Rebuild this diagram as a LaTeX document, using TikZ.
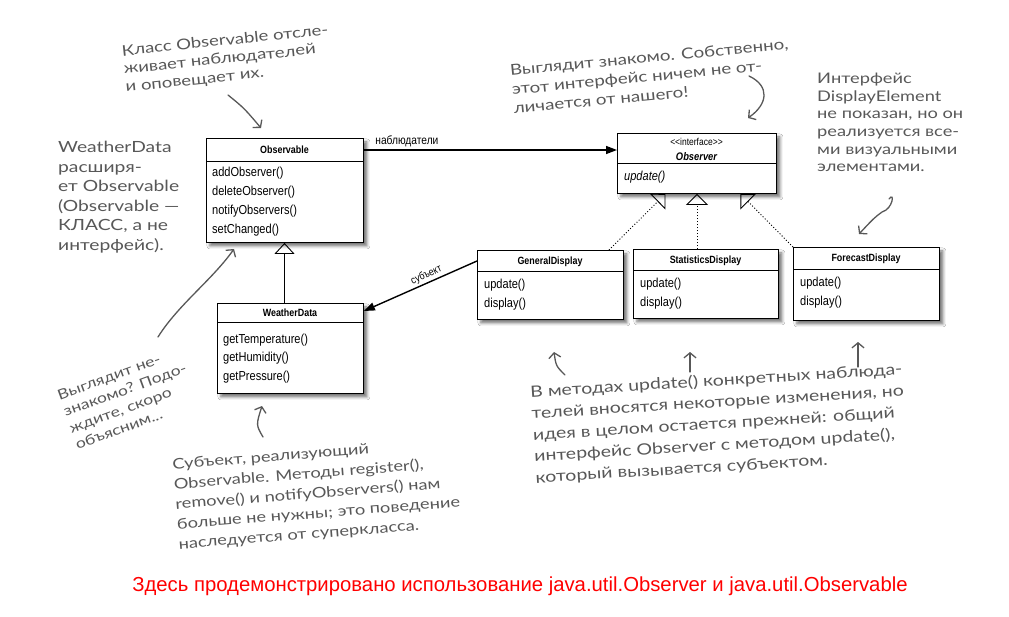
\documentclass[tikz,border=0pt]{standalone}
\usepackage{fontspec}
\setmainfont{Liberation Sans}
\newfontfamily\uml[FakeStretch=0.85]{Liberation Sans}
\newfontfamily\hand[FakeStretch=1.25]{Lato}
\usetikzlibrary{arrows.meta,shadows.blur,calc}
\definecolor{annot}{RGB}{88,88,88}
\tikzset{
  umlbox/.style={draw, line width=0.9pt, fill=white, anchor=north west, inner sep=0pt,
    blur shadow={shadow xshift=3.5pt, shadow yshift=-3.5pt, shadow blur radius=3pt, shadow opacity=55}},
  sepline/.style={line width=0.8pt},
  ttl/.style={font=\uml\bfseries\fontsize{10.5}{12}\selectfont, inner sep=0pt},
  mth/.style={font=\uml\fontsize{13}{15}\selectfont, anchor=west, inner sep=0pt},
  assoc/.style={line width=1.4pt, -{Triangle[length=11pt,width=8pt]}},
  gener/.style={line width=0.9pt, -{Triangle[open,length=11pt,width=20pt,line width=0.9pt]}},
  realiz/.style={line width=0.9pt, dash pattern=on 1pt off 2pt, -{Triangle[open,length=11pt,width=22pt,line width=0.9pt,sep=0pt]}},
  note/.style={text=annot, align=left, inner sep=0pt, font=\hand\fontsize{14.5}{17.5}\selectfont},
  handarrow/.style={draw=annot, line width=1.3pt, line cap=round, -{Straight Barb[length=5pt,width=12pt]}},
  lbl/.style={font=\uml\fontsize{12}{14}\selectfont, inner sep=1pt}
}
\begin{document}
\begin{tikzpicture}[x=1pt,y=-1pt]
\fill[white] (0,0) rectangle (1009,616);
\useasboundingbox (0,0) rectangle (1009,616);

% ---------- Observable ----------
\node[umlbox, minimum width=157pt, minimum height=104pt] (obs) at (206,138) {};
\draw[sepline] ([yshift=-23pt]obs.north west) -- ([yshift=-23pt]obs.north east);
\node[ttl] (obsT) at (284.5,150) {Observable};
\node[mth] (obs1) at (212,173) {addObserver()};
\node[mth] (obs2) at (212,192) {deleteObserver()};
\node[mth] (obs3) at (212,211) {notifyObservers()};
\node[mth] (obs4) at (212,230) {setChanged()};

% ---------- Observer ----------
\node[umlbox, minimum width=159pt, minimum height=60pt] (observer) at (617,133) {};
\draw[sepline] ([yshift=-30pt]observer.north west) -- ([yshift=-30pt]observer.north east);
\node[font=\uml\fontsize{10}{12}\selectfont, inner sep=0pt] (oI) at (696.5,142) {<<interface>>};
\node[ttl, font=\uml\bfseries\itshape\fontsize{11}{12}\selectfont] (oT) at (696.5,157) {Observer};
\node[mth, font=\uml\itshape\fontsize{13}{15}\selectfont] (o1) at (624,177) {update()};

% ---------- WeatherData ----------
\node[umlbox, minimum width=146pt, minimum height=90pt] (wd) at (217,303) {};
\draw[sepline] ([yshift=-19pt]wd.north west) -- ([yshift=-19pt]wd.north east);
\node[ttl] (wdT) at (290,313) {WeatherData};
\node[mth] (wd1) at (223,340) {getTemperature()};
\node[mth] (wd2) at (223,358) {getHumidity()};
\node[mth] (wd3) at (223,377) {getPressure()};

% ---------- GeneralDisplay ----------
\node[umlbox, minimum width=146pt, minimum height=69pt] (gd) at (477,250) {};
\draw[sepline] ([yshift=-21pt]gd.north west) -- ([yshift=-21pt]gd.north east);
\node[ttl] (gdT) at (550,262) {GeneralDisplay};
\node[mth] (gd1) at (484,285) {update()};
\node[mth] (gd2) at (484,304) {display()};

% ---------- StatisticsDisplay ----------
\node[umlbox, minimum width=145pt, minimum height=69pt] (sd) at (633,249) {};
\draw[sepline] ([yshift=-21pt]sd.north west) -- ([yshift=-21pt]sd.north east);
\node[ttl] (sdT) at (705.5,261) {StatisticsDisplay};
\node[mth] (sd1) at (640,284) {update()};
\node[mth] (sd2) at (640,303) {display()};

% ---------- ForecastDisplay ----------
\node[umlbox, minimum width=146pt, minimum height=73pt] (fd) at (793,247) {};
\draw[sepline] ([yshift=-22pt]fd.north west) -- ([yshift=-22pt]fd.north east);
\node[ttl] (fdT) at (866,259) {ForecastDisplay};
\node[mth] (fd1) at (800,283) {update()};
\node[mth] (fd2) at (800,302) {display()};

% ---------- connectors ----------
\draw[assoc] (obsT.east -| obs.east) -- (obsT.east -| observer.west)
  node[lbl, pos=0.17, above=1pt] (lobs) {наблюдатели};
\draw[gener] (wd.north -| obsT.south) -- (obs.south -| obsT.south);
\draw[assoc] ([yshift=-11pt]gd.north west) -- ([yshift=-8pt]wd.north east)
  node[lbl, font=\uml\fontsize{10.5}{12}\selectfont, pos=0.42, sloped, above=1pt] (lsub) {субъект};
\draw[realiz] ([xshift=-15pt]gd.north east) -- ([xshift=-31.5pt]observer.south);
\draw[realiz] (observer.south |- sd.north) -- (observer.south);
\draw[realiz] (fd.north west) -- ([xshift=43.5pt]observer.south);

% ---------- annotations ----------
\node[note, rotate=6, font=\hand\fontsize{14.8}{18}\selectfont] (n1) at (227,59) {Класс Observable отсле-\\живает наблюдателей\\и оповещает их.};
\node[note, rotate=5.5, font=\hand\fontsize{15}{19}\selectfont] (n2) at (651,76) {Выглядит знакомо. Собственно,\\этот интерфейс ничем не от-\\личается от нашего!};
\node[note, anchor=north west, font=\hand\fontsize{14.6}{17.6}\selectfont] (n3) at (817,73) {Интерфейс\\DisplayElement\\не показан, но он\\реализуется все-\\ми визуальными\\элементами.};
\node[note, anchor=north west, font=\hand\fontsize{15.4}{19.6}\selectfont] (n4) at (58,141) {WeatherData\\расширя-\\ет Observable\\(Observable —\\КЛАСС, а не\\интерфейс).};
\node[note, rotate=20, font=\hand\fontsize{14}{17.5}\selectfont] (n5) at (128,398) {Выглядит не-\\знакомо? Подо-\\ждите, скоро\\объясним...};
\node[note, rotate=4.5, font=\hand\fontsize{14.6}{20}\selectfont] (n6) at (317,494) {Субъект, реализующий\\Observable. Методы register(),\\remove() и notifyObservers() нам\\больше не нужны; это поведение\\наследуется от суперкласса.};
\node[note, rotate=3.5, font=\hand\fontsize{15.6}{21.5}\selectfont] (n7) at (719,424) {В методах update() конкретных наблюда-\\телей вносятся некоторые изменения, но\\идея в целом остается прежней: общий\\интерфейс Observer с методом update(),\\который вызывается субъектом.};

% handwritten arrows
\coordinate (a1s) at (228,95);  \coordinate (a1e) at (261,128);
\draw[handarrow] (a1s) .. controls (244,108) .. (a1e);
\coordinate (a2s) at (749,76);  \coordinate (a2e) at (748,118);
\draw[handarrow] (a2s) .. controls (770,86) and (768,104) .. (a2e);
\coordinate (a3s) at (889,199); \coordinate (a3m) at (882,212); \coordinate (a3e) at (859,234);
\draw[handarrow] (a3s) .. controls (895,191) and (893,209) .. (a3m) .. controls (874,218) .. (a3e);
\coordinate (a4s) at (158,337); \coordinate (a4e) at (234,249);
\draw[handarrow] (a4s) .. controls (178,305) and (212,280) .. (a4e);
\coordinate (a5s) at (263,437); \coordinate (a5e) at (262,406);
\draw[handarrow] (a5s) .. controls (256,425) .. (a5e);
\coordinate (a6s) at (565,375); \coordinate (a6e) at (554,352);
\draw[handarrow] (a6s) .. controls (556,366) .. (a6e);
\coordinate (a7s) at (690,372); \coordinate (a7e) at (690,352);
\draw[handarrow] (a7s) -- (a7e);
\coordinate (a8s) at (858,367); \coordinate (a8e) at (858,342);
\draw[handarrow] (a8s) -- (a8e);

% ---------- caption ----------
\node[font=\fontsize{20.3}{22}\selectfont, text=red, inner sep=0pt] (cap) at (520,586) {Здесь продемонстрировано использование java.util.Observer и java.util.Observable};
\end{tikzpicture}
\end{document}
